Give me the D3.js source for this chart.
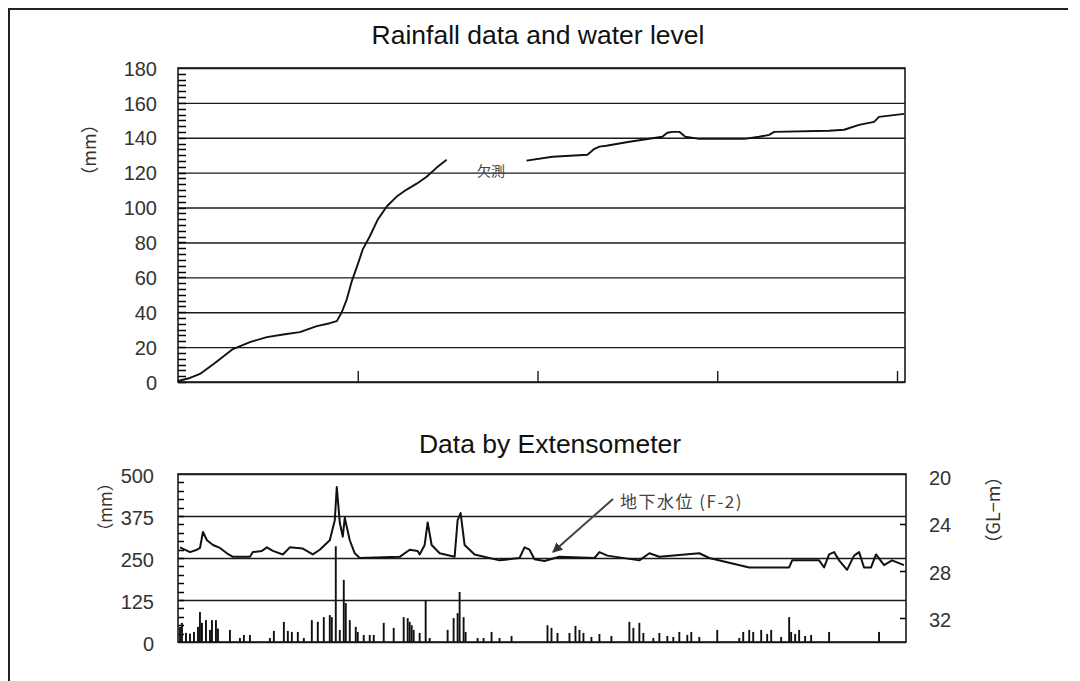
<!DOCTYPE html>
<html>
<head>
<meta charset="utf-8">
<script src="https://cdn.jsdelivr.net/npm/d3@7"></script>
<style>
  body { margin: 0; background: #fff; }
  text { font-family: "Liberation Sans", Arial, sans-serif; }
</style>
</head>
<body>
<svg id="chart" width="1080" height="681"></svg>
<script>
// cumulative rainfall (top chart), day index -> mm, null = missing (欠測)
var cumDays = [0, 6, 11, 18.5, 27.5, 36, 44.5, 53.5, 61, 69.5, 76, 79.5, 82, 84.5, 87, 90, 92.5, 96, 100, 104.5,
  109.5, 114.5, 119.5, 124.5, 129.5, 134.5, 150,
  174.5, 187.5, 205, 208.5, 211, 214.5, 226, 242.5, 245, 247.5, 251, 254, 261, 283.5, 291, 296, 298.5,
  326, 333.5, 341, 348.5, 351, 363.5];
var cumRain = [0.6, 2.3, 4.6, 10.9, 18.9, 22.9, 25.7, 27.4, 28.6, 32, 33.7, 34.9, 40, 47.4, 57.7, 67.4, 76, 83.4, 93.1, 100.6,
  106.3, 110.3, 113.7, 117.7, 122.9, 127.4, null,
  126.9, 129.1, 130.3, 133.7, 134.9, 135.4, 137.7, 140.6, 142.9, 143.4, 143.4, 140.6, 139.4, 139.4, 140.6, 141.7, 143.4,
  144, 144.6, 147.4, 149.1, 152, 153.7];

// groundwater level F-2 (GL-m)
var gwDays = [1, 6, 9.5, 11, 12.5, 14.5, 17.5, 21, 24.5, 27.5, 36, 37.5, 42, 44.5, 47.5, 52.5, 56, 62.5, 67.5, 71,
  76, 78.5, 79.5, 81, 82.5, 83.5, 86, 88.5, 91, 111, 116, 120, 121, 123.5, 125, 127, 131, 138.5, 140, 141.5,
  143.5, 148.5, 161, 171, 173.5, 176, 178.5, 183.5, 191, 208.5, 211, 215, 231, 236, 241, 261, 266, 286, 306,
  307.5, 321, 323.5, 326, 328.5, 331, 335, 338.5, 341, 343.5, 347, 349.5, 353.5, 357.5, 363.5];
var gwLevel = [26.0, 26.4, 26.2, 26.05, 24.7, 25.4, 25.8, 26.05, 26.5, 26.8, 26.8, 26.4, 26.3, 26.0, 26.3, 26.6, 26.0, 26.1, 26.6, 26.2,
  25.4, 23.7, 20.9, 23.9, 25.1, 23.5, 25.4, 26.5, 26.9, 26.8, 26.2, 26.3, 26.6, 25.8, 23.9, 25.8, 26.5, 26.8, 23.7, 23.1,
  25.8, 26.6, 27.1, 26.9, 26.0, 26.2, 27.0, 27.15, 26.8, 26.9, 26.4, 26.7, 27.1, 26.5, 26.8, 26.5, 26.9, 27.7, 27.7,
  27.1, 27.1, 27.7, 26.6, 26.4, 27.1, 27.9, 26.7, 26.4, 27.7, 27.7, 26.6, 27.5, 27.1, 27.5];

// daily rainfall (mm)
var rainDays = [1, 2, 4, 6, 8, 10, 11, 12, 14, 16, 17, 19, 20, 26, 31, 33, 36, 46, 48, 53, 55, 57, 60, 63, 67, 70,
  73, 76, 77, 79, 81, 83, 84, 86, 89, 90, 93, 96, 98, 103, 108, 113, 115, 116, 117, 118, 121, 124, 126, 135, 138,
  140, 141, 143, 144, 150, 153, 157, 161, 167, 185, 187, 190, 196, 199, 201, 203, 207, 211, 217, 226, 228, 231,
  233, 238, 241, 245, 248, 251, 255, 257, 261, 270, 281, 283, 286, 288, 292, 295, 297, 302, 306, 307, 309, 311,
  314, 317, 326, 351];
var rainMm = [45, 57, 27, 25, 30, 45, 89, 57, 65, 36, 65, 65, 40, 36, 12, 21, 21, 12, 33, 60, 33, 30, 30, 12, 65, 60,
  74, 80, 74, 285, 36, 185, 116, 65, 45, 30, 21, 21, 21, 57, 42, 74, 71, 60, 50, 36, 27, 125, 12, 36, 71,
  86, 149, 74, 30, 12, 12, 30, 12, 18, 50, 42, 27, 27, 48, 36, 27, 15, 24, 18, 60, 42, 57,
  27, 12, 27, 18, 15, 30, 21, 30, 15, 36, 12, 30, 36, 30, 36, 24, 36, 15, 74, 30, 24, 36,
  18, 21, 30, 30];

var cumTicks = [0, 20, 40, 60, 80, 100, 120, 140, 160, 180];
var mmTicks = [0, 125, 250, 375, 500];
var glTicks = [20, 24, 28, 32];
var dayTicks = [90, 180, 270, 360];

var svg = d3.select("#chart");
var ink = "#1a1a1a";
var cjk = "'Noto Sans CJK JP', 'Noto Sans', sans-serif";

// outer frame (left and top edges)
svg.append("path").attr("d", "M9,681V9H1068").attr("fill", "none").attr("stroke", "#222").attr("stroke-width", 2);

var x = d3.scaleLinear().domain([0, 364]).range([178, 905]);

// small inward ticks along a vertical axis
function minorTicks(g, scale, values, x0, len) {
  g.append("g").selectAll("line").data(values).enter().append("line")
    .attr("x1", x0).attr("x2", x0 + len)
    .attr("y1", d => Math.round(scale(d)) + 0.5).attr("y2", d => Math.round(scale(d)) + 0.5)
    .attr("stroke", "#000").attr("stroke-width", 1.5);
}

// ---------- top chart ----------
var yTop = d3.scaleLinear().domain([0, 180]).range([382, 68]);

svg.append("text").attr("x", 538).attr("y", 44).attr("text-anchor", "middle")
  .style("font-size", "26.5px").attr("fill", "#111").text("Rainfall data and water level");

var gTop = svg.append("g");
var topGrid = gTop.append("g").attr("transform", "translate(178,0)")
  .call(d3.axisLeft(yTop).tickValues(cumTicks).tickSize(-727).tickPadding(21));
topGrid.select(".domain").remove();
topGrid.selectAll("line").attr("stroke", ink).attr("stroke-width", 1.4);
topGrid.selectAll("text").style("font-size", "20px").attr("fill", "#333").attr("dy", "0.36em");

minorTicks(gTop, yTop, d3.range(0, 180, 20 / 6), 178, 8);

gTop.append("rect").attr("x", 178).attr("y", yTop(180)).attr("width", 727).attr("height", yTop(0) - yTop(180))
  .attr("fill", "none").attr("stroke", ink).attr("stroke-width", 1.6);

gTop.append("g").attr("transform", "translate(0," + yTop(0) + ")")
  .call(d3.axisTop(x).tickValues(dayTicks).tickSize(11).tickFormat(""))
  .call(g => g.select(".domain").remove())
  .selectAll("line").attr("stroke", ink).attr("stroke-width", 1.4);

svg.append("text").attr("transform", "translate(96,150) rotate(-90)").attr("text-anchor", "middle")
  .style("font-size", "18px").style("font-family", cjk).attr("fill", "#333").text("（mm）");

var cumData = cumDays.map((d, i) => ({ d: d, v: cumRain[i] }));
gTop.append("path").datum(cumData)
  .attr("fill", "none").attr("stroke", "#111").attr("stroke-width", 1.9).attr("stroke-linejoin", "round")
  .attr("d", d3.line().defined(p => p.v !== null).x(p => x(p.d)).y(p => yTop(p.v)));

svg.append("text").attr("x", 477).attr("y", 176).style("font-size", "14px")
  .style("font-family", cjk).attr("fill", "#444").text("欠測");

// ---------- bottom chart ----------
var yMm = d3.scaleLinear().domain([0, 500]).range([642, 474]);
var yGl = d3.scaleLinear().domain([19.8, 34]).range([474, 642]);

svg.append("text").attr("x", 550).attr("y", 453).attr("text-anchor", "middle")
  .style("font-size", "26.5px").attr("fill", "#111").text("Data by Extensometer");

var gBot = svg.append("g");
var botGrid = gBot.append("g").attr("transform", "translate(178,0)")
  .call(d3.axisLeft(yMm).tickValues(mmTicks).tickSize(-728).tickPadding(24));
botGrid.select(".domain").remove();
botGrid.selectAll("line").attr("stroke", ink).attr("stroke-width", 1.4);
botGrid.selectAll("text").style("font-size", "20px").attr("fill", "#333").attr("dy", "0.4em");

minorTicks(gBot, yMm, d3.range(25, 500, 25), 178, 6);

var rightAxis = gBot.append("g").attr("transform", "translate(906,0)")
  .call(d3.axisRight(yGl).tickValues(glTicks).tickSize(0).tickPadding(23));
rightAxis.select(".domain").remove();
rightAxis.selectAll("text").style("font-size", "20px").attr("fill", "#333").attr("dy", "0.4em");
minorTicks(gBot, yGl, glTicks.slice(1), 900, 6);

gBot.append("rect").attr("x", 178).attr("y", yMm(500)).attr("width", 728).attr("height", yMm(0) - yMm(500))
  .attr("fill", "none").attr("stroke", ink).attr("stroke-width", 1.6);

svg.append("text").attr("transform", "translate(112,507) rotate(-90)").attr("text-anchor", "middle")
  .style("font-size", "17px").style("font-family", cjk).attr("fill", "#333").text("（mm）");
svg.append("text").attr("transform", "translate(1000,510) rotate(-90)").attr("text-anchor", "middle")
  .style("font-size", "18px").style("font-family", cjk).attr("fill", "#333").text("（GL\u2212m）");

// rainfall bars
var barW = x(1) - x(0) - 0.1;
gBot.selectAll(".bar").data(rainDays).enter().append("rect")
  .attr("class", "bar")
  .attr("x", d => x(d) - barW / 2)
  .attr("width", barW)
  .attr("y", (d, i) => yMm(rainMm[i]))
  .attr("height", (d, i) => yMm(0) - yMm(rainMm[i]))
  .attr("fill", "#111");

// groundwater line
var gwData = gwDays.map((d, i) => ({ d: d, v: gwLevel[i] }));
gBot.append("path").datum(gwData)
  .attr("fill", "none").attr("stroke", "#111").attr("stroke-width", 2).attr("stroke-linejoin", "round")
  .attr("d", d3.line().x(p => x(p.d)).y(p => yGl(p.v)));

// annotation
svg.append("defs").append("marker").attr("id", "arr").attr("viewBox", "0 0 10 10")
  .attr("refX", 9).attr("refY", 5).attr("markerWidth", 5).attr("markerHeight", 5).attr("orient", "auto")
  .append("path").attr("d", "M0,0L10,5L0,10z").attr("fill", "#333");
svg.append("line").attr("x1", 613).attr("y1", 499).attr("x2", 553).attr("y2", 552)
  .attr("stroke", "#444").attr("stroke-width", 2).attr("marker-end", "url(#arr)");
svg.append("text").attr("x", 620).attr("y", 508).style("font-size", "17px").style("letter-spacing", "1.5px")
  .style("font-family", cjk).attr("fill", "#444").text("地下水位 (F-2)");
</script>
</body>
</html>
